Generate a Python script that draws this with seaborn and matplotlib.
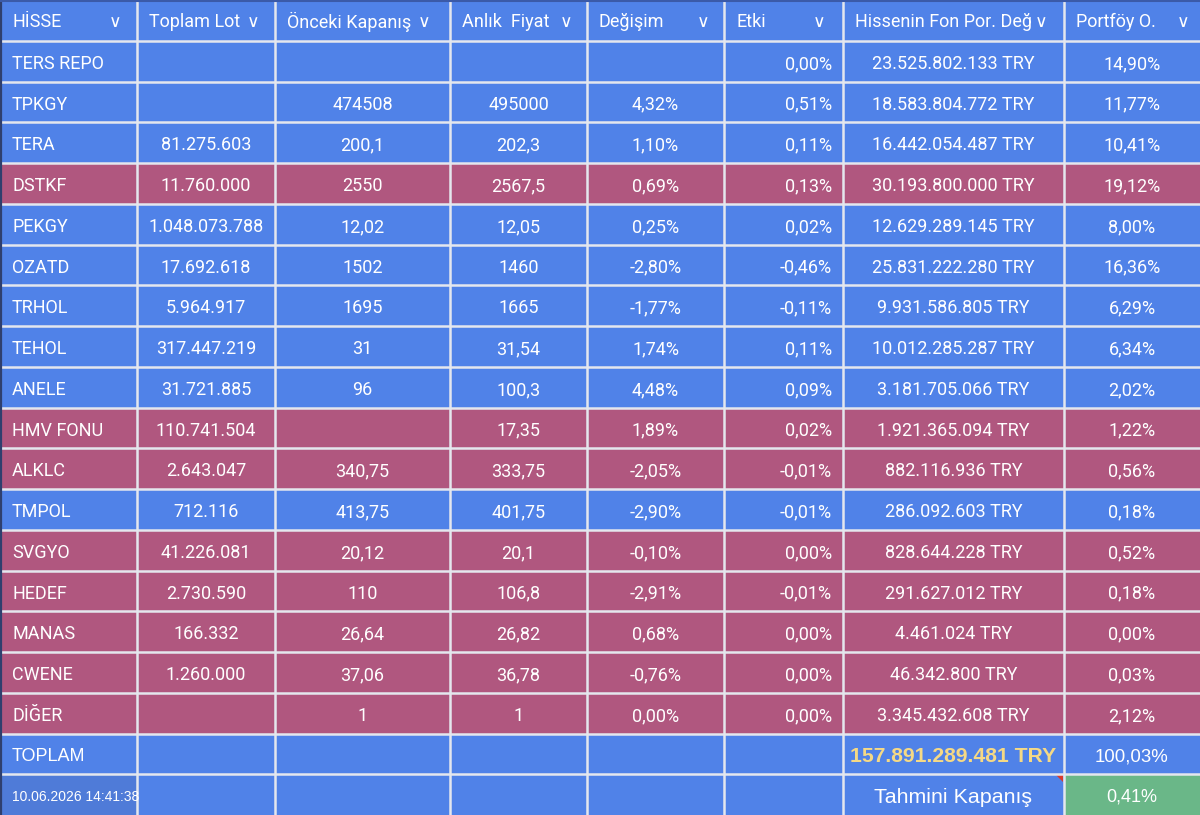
import numpy as np
import matplotlib
matplotlib.use("Agg")
import matplotlib.pyplot as plt
from matplotlib.colors import ListedColormap
import seaborn as sns

# table content
headers = ["HİSSE", "Toplam Lot", "Önceki Kapanış", "Anlık  Fiyat", "Değişim", "Etki",
           "Hissenin Fon Por. Değ", "Portföy O."]
hisse = ["TERS REPO", "TPKGY", "TERA", "DSTKF", "PEKGY", "OZATD", "TRHOL", "TEHOL", "ANELE",
         "HMV FONU", "ALKLC", "TMPOL", "SVGYO", "HEDEF", "MANAS", "CWENE", "DİĞER"]
toplam_lot = ["", "", "81.275.603", "11.760.000", "1.048.073.788", "17.692.618", "5.964.917",
              "317.447.219", "31.721.885", "110.741.504", "2.643.047", "712.116", "41.226.081",
              "2.730.590", "166.332", "1.260.000", ""]
onceki_kapanis = ["", "474508", "200,1", "2550", "12,02", "1502", "1695", "31", "96", "",
                  "340,75", "413,75", "20,12", "110", "26,64", "37,06", "1"]
anlik_fiyat = ["", "495000", "202,3", "2567,5", "12,05", "1460", "1665", "31,54", "100,3",
               "17,35", "333,75", "401,75", "20,1", "106,8", "26,82", "36,78", "1"]
degisim = ["", "4,32%", "1,10%", "0,69%", "0,25%", "-2,80%", "-1,77%", "1,74%", "4,48%",
           "1,89%", "-2,05%", "-2,90%", "-0,10%", "-2,91%", "0,68%", "-0,76%", "0,00%"]
etki = ["0,00%", "0,51%", "0,11%", "0,13%", "0,02%", "-0,46%", "-0,11%", "0,11%", "0,09%",
        "0,02%", "-0,01%", "-0,01%", "0,00%", "-0,01%", "0,00%", "0,00%", "0,00%"]
fon_degeri = ["23.525.802.133 TRY", "18.583.804.772 TRY", "16.442.054.487 TRY",
              "30.193.800.000 TRY", "12.629.289.145 TRY", "25.831.222.280 TRY",
              "9.931.586.805 TRY", "10.012.285.287 TRY", "3.181.705.066 TRY",
              "1.921.365.094 TRY", "882.116.936 TRY", "286.092.603 TRY", "828.644.228 TRY",
              "291.627.012 TRY", "4.461.024 TRY", "46.342.800 TRY", "3.345.432.608 TRY"]
portfoy = ["14,90%", "11,77%", "10,41%", "19,12%", "8,00%", "16,36%", "6,29%", "6,34%",
           "2,02%", "1,22%", "0,56%", "0,18%", "0,52%", "0,18%", "0,00%", "0,03%", "2,12%"]
pink_rows = ["DSTKF", "HMV FONU", "ALKLC", "SVGYO", "HEDEF", "MANAS", "CWENE", "DİĞER"]

toplam_label = "TOPLAM"
toplam_deger = "157.891.289.481 TRY"
toplam_portfoy = "100,03%"
tarih = "10.06.2026 14:41:38"
tahmini_label = "Tahmini Kapanış"
tahmini_deger = "0,41%"

# layout
col_widths = [137, 138, 175, 137, 137, 119, 221, 136]
edges = np.concatenate([[0], np.cumsum(col_widths)])
BLUE, PINK, GREEN, DATEBLUE = "#5082e8", "#b0577f", "#6ab788", "#4f7bd8"
GRID = "#e4e7ee"
FONT = ["Roboto", "DejaVu Sans"]
ARIAL = ["Liberation Sans", "DejaVu Sans"]
DY = 0.07  # text sits slightly low in each cell

sns.set_theme(style="white")
plt.rcParams["font.family"] = FONT

n_rows = 1 + len(hisse) + 2
codes = np.zeros((n_rows, len(col_widths)), dtype=int)
for i, h in enumerate(hisse):
    if h in pink_rows:
        codes[i + 1, :] = 1
codes[n_rows - 1, 0] = 3
codes[n_rows - 1, 7] = 2
grid_codes = np.repeat(codes, col_widths, axis=1)

fig = plt.figure(figsize=(12, 8.15), dpi=100)
ax = fig.add_axes([0, 0, 1, 1])
sns.heatmap(grid_codes, ax=ax, cmap=ListedColormap([BLUE, PINK, GREEN, DATEBLUE]),
            vmin=-0.5, vmax=3.5, cbar=False, xticklabels=False, yticklabels=False)

for y in range(1, n_rows):
    ax.axhline(y, color=GRID, lw=1.8)
for x in edges[1:-1]:
    ax.axvline(x, color=GRID, lw=1.8)
ax.axvline(0.5, color="#2f3f6e", lw=1.6)
ax.axhline(0.02, color="#3b5aa8", lw=1.5)

TXT = dict(color="white", va="center", fontsize=13, family=FONT)

# header
for j, h in enumerate(headers):
    ax.text(edges[j] + 12, 0.5 + DY * 0.6, h, ha="left", **TXT)
chevron_x = [115, 253, 424, 566, 703, 819, 1041, 1183]
for cx in chevron_x:
    ax.text(cx, 0.55, "∨", ha="center", va="center", color="white", fontsize=12.5,
            family=["DejaVu Sans"])

centers = (edges[:-1] + edges[1:]) / 2
cols = [toplam_lot, onceki_kapanis, anlik_fiyat, degisim, etki, fon_degeri, portfoy]
for i, h in enumerate(hisse):
    y = i + 1.5 + DY
    ax.text(12, y, h, ha="left", **TXT)
    for j, col in enumerate(cols, start=1):
        if j == 5:
            ax.text(edges[j + 1] - 11, y, col[i], ha="right", **TXT)
        else:
            ax.text(centers[j], y, col[i], ha="center", **TXT)

# total and footer rows
yt = n_rows - 1.5 + DY
ax.text(12, yt, toplam_label, ha="left", va="center", color="white", fontsize=13,
        family=ARIAL)
ax.text(centers[6], yt, toplam_deger, ha="center", va="center", color="#f5d985",
        fontsize=15.2, fontweight="bold", family=ARIAL)
ax.text(centers[7], yt, toplam_portfoy, ha="center", va="center", color="white",
        fontsize=13.4, family=ARIAL)

yf = n_rows - 0.5 + DY
ax.text(12, yf, tarih, ha="left", va="center", color="white", fontsize=10, family=ARIAL)
ax.text(centers[6], yf, tahmini_label, ha="center", va="center", color="white",
        fontsize=15.4, family=ARIAL)
ax.text(centers[7], yf, tahmini_deger, ha="center", va="center", color="white",
        fontsize=13, family=ARIAL)
ax.fill([edges[7] - 8, edges[7] - 1, edges[7] - 1],
        [n_rows - 1 + 0.03, n_rows - 1 + 0.03, n_rows - 1 + 0.2], color="#d93a2b", lw=0)

ax.set_xlim(0, edges[-1])
ax.set_ylim(n_rows, 0)
ax.axis("off")
fig.savefig("out.png", dpi=100)
